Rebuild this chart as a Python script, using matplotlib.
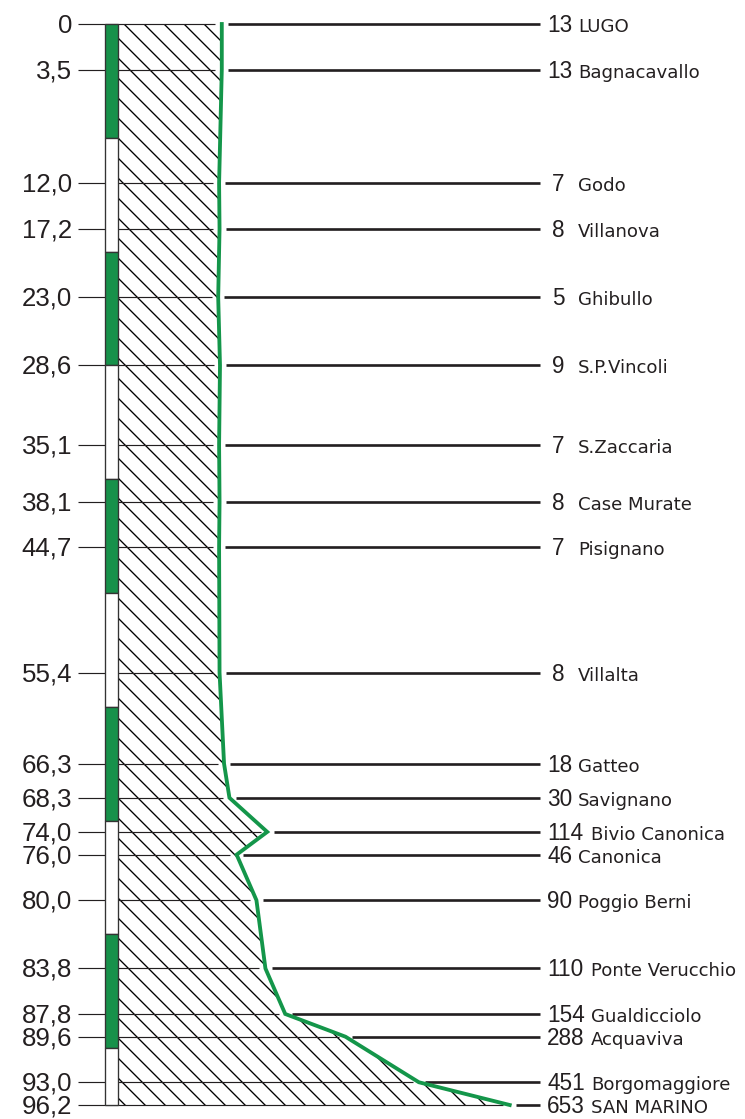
import matplotlib.pyplot as plt
from matplotlib.patches import Rectangle
from matplotlib.transforms import offset_copy

# km progressive (as printed), station names and altitude (m)
km_labels = ["0", "3,5", "12,0", "17,2", "23,0", "28,6", "35,1", "38,1", "44,7", "55,4",
             "66,3", "68,3", "74,0", "76,0", "80,0", "83,8", "87,8", "89,6", "93,0", "96,2"]
stations = ["LUGO", "Bagnacavallo", "Godo", "Villanova", "Ghibullo", "S.P.Vincoli",
            "S.Zaccaria", "Case Murate", "Pisignano", "Villalta", "Gatteo", "Savignano",
            "Bivio Canonica", "Canonica", "Poggio Berni", "Ponte Verucchio", "Gualdicciolo",
            "Acquaviva", "Borgomaggiore", "SAN MARINO"]
altitude = [13, 13, 7, 8, 5, 9, 7, 8, 7, 8, 18, 30, 114, 46, 90, 110, 154, 288, 451, 653]
# schematic row of each station on the drawing (not to scale)
row = [0, 4, 14, 18, 24, 30, 37, 42, 46, 57, 65, 68, 71, 73, 77, 83, 87, 89, 93, 95]

GREEN = '#14964a'
BAR_GREEN = '#17914a'
INK = '#231f20'

plt.rcParams['hatch.linewidth'] = 0.8

DPI = 120
fig = plt.figure(figsize=(745 / DPI, 1119 / DPI), dpi=DPI)
ax = fig.add_axes([0, 0, 1, 1])
ax.axis('off')

# altitude on x, schematic row on y
x0, x1 = -480, 1176
ax.set_xlim(x0, x1)
ax.set_ylim(96.23, -2.11)


def frac_to_alt(f):
    return x0 + f * (x1 - x0)


base = frac_to_alt(118 / 745)
line_left = frac_to_alt(78 / 745)
line_right = frac_to_alt(540 / 745)
gap = 14

# hatched profile
ax.fill_betweenx(row, base, altitude, facecolor='none', edgecolor='black',
                 linewidth=0, hatch='\\\\', zorder=1)

# station lines
for a, r in zip(altitude, row):
    ax.hlines(r, line_left, a - gap, color=INK, lw=0.7, zorder=2)
    ax.hlines(r, a + gap, line_right, color=INK, lw=1.6, zorder=2)

# profile line
ax.plot(altitude, row, color=GREEN, lw=2.3, zorder=4, solid_joinstyle='miter')

# 10 km scale bar
ytr = ax.get_yaxis_transform()
for i, start in enumerate(range(0, 95, 10)):
    end = min(start + 10, 95)
    fc = BAR_GREEN if i % 2 == 0 else 'white'
    ax.add_patch(Rectangle((105 / 745, start), 13 / 745, end - start, transform=ytr,
                           facecolor=fc, edgecolor='#333333', lw=0.8, zorder=3))

# labels
left_tr = offset_copy(ytr, fig=fig, x=0, y=-8.5, units='dots')
right_tr = offset_copy(ytr, fig=fig, x=0, y=-8, units='dots')
for lab, name, a, r in zip(km_labels, stations, altitude, row):
    ax.text(72 / 745, r, lab, transform=left_tr, ha='right', va='baseline',
            fontsize=15.5, family='Liberation Sans', color=INK)
    num = str(a)
    nx = 552 if len(num) == 1 else 547
    ax.text(nx / 745, r, num, transform=right_tr, ha='left', va='baseline',
            fontsize=13.5, family='Liberation Sans', color=INK)
    tx = 591 if len(num) == 3 else 578
    ax.text(tx / 745, r, name, transform=right_tr, ha='left', va='baseline',
            fontsize=10.9, family='DejaVu Sans', color=INK)

fig.savefig('out.png', dpi=DPI)
